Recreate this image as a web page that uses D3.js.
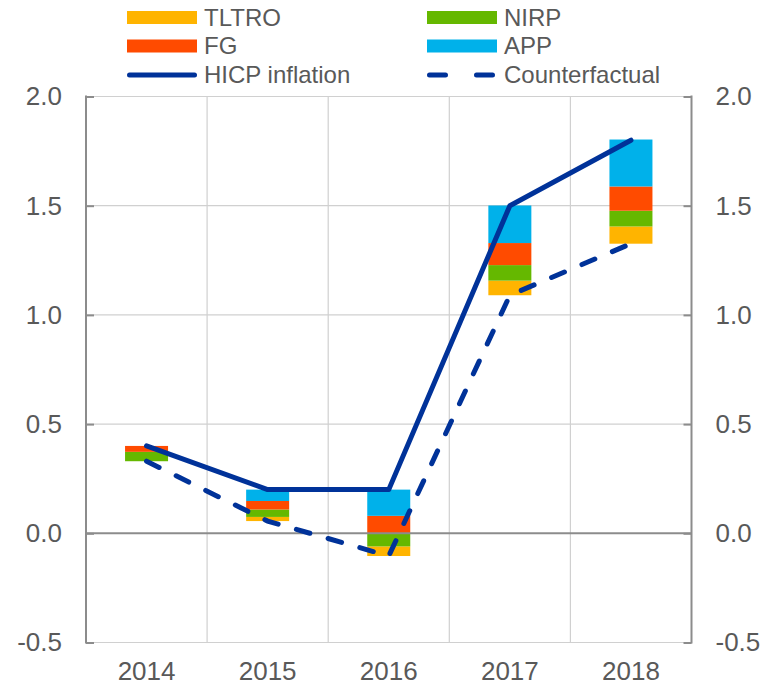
<!DOCTYPE html>
<html>
<head>
<meta charset="utf-8">
<script src="https://cdn.jsdelivr.net/npm/d3@7/dist/d3.min.js"></script>
<style>
  html, body { margin: 0; padding: 0; background: #fff; }
  svg { display: block; font-family: "Liberation Sans", Arial, sans-serif; }
</style>
</head>
<body>
<svg id="chart" width="776" height="686"></svg>
<script>
const years = ["2014", "2015", "2016", "2017", "2018"];
const counterfactual = [0.33, 0.056, -0.104, 1.09, 1.326];
const tltro = [0.0, 0.019, 0.044, 0.067, 0.079];
const nirp  = [0.043, 0.034, 0.060, 0.071, 0.072];
const fg    = [0.027, 0.039, 0.080, 0.101, 0.111];
const app   = [0.0, 0.052, 0.120, 0.172, 0.215];
const hicp  = [0.40, 0.20, 0.20, 1.50, 1.80];
const yTicks = [-0.5, 0.0, 0.5, 1.0, 1.5, 2.0];

const seriesNames = ["TLTRO", "NIRP", "FG", "APP"];
const seriesVals = [tltro, nirp, fg, app];
const colors = { TLTRO: "#FFB400", NIRP: "#65B800", FG: "#FF4B00", APP: "#00B1EA" };
const lineColor = "#003299";
const textColor = "#595959";

const W = 776, H = 686;
const m = { left: 86, right: 84.5, top: 96.5, bottom: 43.5 };
const svg = d3.select("#chart");

const x = d3.scaleBand().domain(years).range([m.left, W - m.right]).paddingInner(0).paddingOuter(0);
const y = d3.scaleLinear().domain([-0.5, 2.0]).range([H - m.bottom, m.top]);
const fmt = d => d.toFixed(1);

// grid
const grid = svg.append("g");
grid.selectAll("line.h").data(yTicks.filter(d => d !== 0)).join("line")
  .attr("x1", m.left).attr("x2", W - m.right)
  .attr("y1", d => y(d)).attr("y2", d => y(d))
  .attr("stroke", "#d0d0d0").attr("stroke-width", 1.2);
grid.selectAll("line.v").data(years.slice(1)).join("line")
  .attr("x1", d => x(d)).attr("x2", d => x(d))
  .attr("y1", m.top).attr("y2", H - m.bottom)
  .attr("stroke", "#d0d0d0").attr("stroke-width", 1.2);

// stacked bars from counterfactual base
const rows = years.map((yr, i) => {
  let base = counterfactual[i];
  return seriesNames.map((s, j) => {
    const v = seriesVals[j][i];
    const seg = { year: yr, key: s, y0: base, y1: base + v };
    base += v;
    return seg;
  });
}).flat();
const barW = 43;
svg.append("g").selectAll("rect").data(rows.filter(d => d.y1 !== d.y0)).join("rect")
  .attr("x", d => x(d.year) + x.bandwidth() / 2 - barW / 2)
  .attr("width", barW)
  .attr("y", d => y(Math.max(d.y0, d.y1)))
  .attr("height", d => Math.abs(y(d.y0) - y(d.y1)))
  .attr("fill", d => colors[d.key]);

// zero line
svg.append("line")
  .attr("x1", m.left).attr("x2", W - m.right)
  .attr("y1", y(0)).attr("y2", y(0))
  .attr("stroke", "#8c8c8c").attr("stroke-width", 2);

// axes
const axL = d3.axisLeft(y).tickValues(yTicks).tickFormat(fmt).tickSize(-8).tickPadding(24);
const axR = d3.axisRight(y).tickValues(yTicks).tickFormat(fmt).tickSize(-8).tickPadding(24);
function styleAxis(g) {
  g.select(".domain").remove();
  g.selectAll(".tick line").attr("stroke", "#8c8c8c").attr("stroke-width", 2);
  g.selectAll(".tick text").attr("fill", textColor).attr("font-size", 26)
    .attr("font-family", "Liberation Sans, Arial, sans-serif");
}
svg.append("g").attr("transform", `translate(${m.left},0)`).call(axL).call(styleAxis);
svg.append("g").attr("transform", `translate(${W - m.right},0)`).call(axR).call(styleAxis);
[m.left, W - m.right].forEach(xx => {
  svg.append("line").attr("x1", xx).attr("x2", xx).attr("y1", m.top - 1).attr("y2", H - m.bottom + 1)
    .attr("stroke", "#8c8c8c").attr("stroke-width", 2);
});

// x labels
svg.append("g").selectAll("text").data(years).join("text")
  .attr("x", d => x(d) + x.bandwidth() / 2)
  .attr("y", 680)
  .attr("text-anchor", "middle")
  .attr("fill", textColor).attr("font-size", 26)
  .text(d => d);

// lines
const cx = (d, i) => x(years[i]) + x.bandwidth() / 2;
const line = d3.line().x((d, i) => cx(d, i)).y(d => y(d));
svg.append("path").datum(counterfactual).attr("d", line)
  .attr("fill", "none").attr("stroke", lineColor).attr("stroke-width", 5)
  .attr("stroke-dasharray", "14,19").attr("stroke-linecap", "round");
svg.append("path").datum(hicp).attr("d", line)
  .attr("fill", "none").attr("stroke", lineColor).attr("stroke-width", 5)
  .attr("stroke-linejoin", "round").attr("stroke-linecap", "round");

// legend
const legendItems = [
  { name: "TLTRO", type: "bar", col: 0, row: 0 },
  { name: "NIRP", type: "bar", col: 1, row: 0 },
  { name: "FG", type: "bar", col: 0, row: 1 },
  { name: "APP", type: "bar", col: 1, row: 1 },
  { name: "HICP inflation", type: "line", col: 0, row: 2 },
  { name: "Counterfactual", type: "dash", col: 1, row: 2 }
];
const colX = [127, 427];
const rowY = [17.5, 46, 75];
const lg = svg.append("g");
legendItems.forEach(it => {
  const x0 = colX[it.col], yc = rowY[it.row];
  if (it.type === "bar") {
    lg.append("rect").attr("x", x0).attr("y", yc - 6.5).attr("width", 70).attr("height", 13)
      .attr("fill", colors[it.name]);
  } else {
    lg.append("line").attr("x1", x0 + 2.5).attr("x2", x0 + 67.5).attr("y1", yc).attr("y2", yc)
      .attr("stroke", lineColor).attr("stroke-width", 5).attr("stroke-linecap", "round")
      .attr("stroke-dasharray", it.type === "dash" ? "16,31" : null);
  }
  lg.append("text").attr("x", x0 + 77).attr("y", yc).attr("dy", "0.35em")
    .attr("fill", textColor).attr("font-size", 24).text(it.name);
});
</script>
</body>
</html>
